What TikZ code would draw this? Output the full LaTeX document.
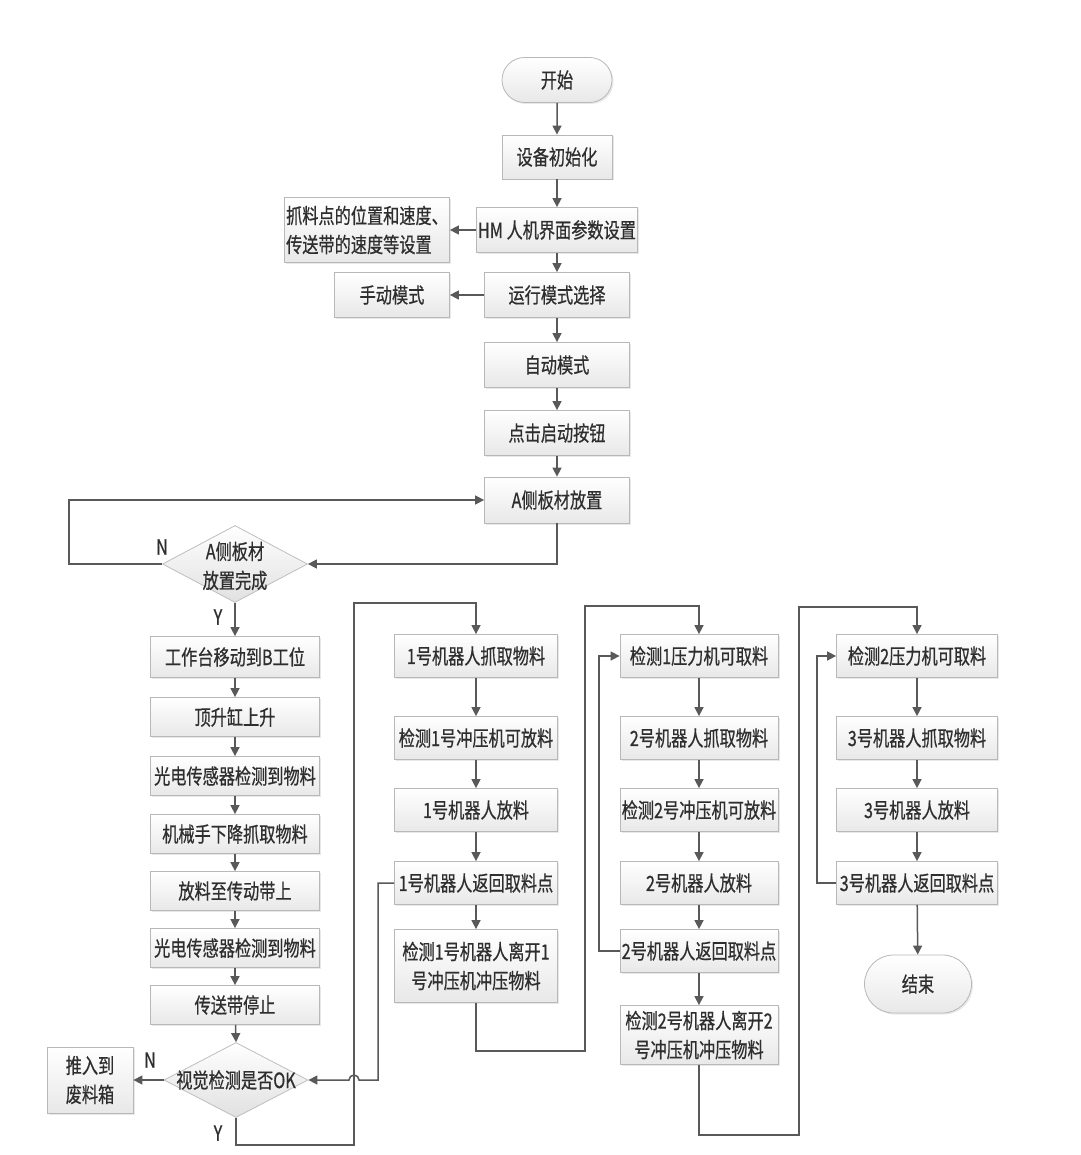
\documentclass[tikz,border=0pt]{standalone}
\usepackage{fontspec}
\newfontfamily\cjk[FakeStretch=0.77,FakeBold=0.6]{Noto Sans CJK SC}
\usetikzlibrary{shapes.geometric,shapes.misc,arrows.meta,shadows}
\begin{document}
\begin{tikzpicture}[x=1pt,y=-1pt,
  font=\cjk\fontsize{21}{29}\selectfont,
  box/.style={rectangle, draw=black!28, line width=0.8pt, top color=white, bottom color=black!9,
    text=black!82, inner sep=0pt, align=center,
    drop shadow={opacity=0.18,shadow xshift=1.5pt,shadow yshift=-1.5pt}},
  term/.style={rounded rectangle, draw=black!28, line width=0.8pt, top color=white, bottom color=black!9,
    text=black!82, inner sep=0pt, align=center,
    drop shadow={opacity=0.18,shadow xshift=1.5pt,shadow yshift=-1.5pt}},
  dia/.style={diamond, draw=black!25, line width=0.8pt, top color=white, bottom color=black!12, inner sep=0pt},
  lbl/.style={text=black!82, inner sep=0pt, align=center},
  arr/.style={draw=black!65, line width=1.5pt, -{Triangle[length=9pt,width=9pt]}},
  ln/.style={draw=black!65, line width=1.5pt},
]
\useasboundingbox (0,0) rectangle (1080,1155);
\fill[white] (0,0) rectangle (1080,1155);

% top column
\node[term, minimum width=110pt, minimum height=45pt] (start) at (557,80) {开始};
\node[box, minimum width=110pt, minimum height=44pt] (init) at (557,157) {设备初始化};
\node[box, minimum width=161pt, minimum height=45pt] (hmi) at (557,230) {HM 人机界面参数设置};
\node[box, minimum width=165pt, minimum height=65pt, align=left] (param) at (367,230) {抓料点的位置和速度、\\传送带的速度等设置};
\node[box, minimum width=145pt, minimum height=45pt] (mode) at (557,295) {运行模式选择};
\node[box, minimum width=115pt, minimum height=45pt] (manual) at (392,295) {手动模式};
\node[box, minimum width=145pt, minimum height=45pt] (auto) at (557,365) {自动模式};
\node[box, minimum width=145pt, minimum height=45pt] (btn) at (557,433) {点击启动按钮};
\node[box, minimum width=145pt, minimum height=46pt] (aplace) at (557,500) {A侧板材放置};

% decision 1
\node[dia, minimum width=145pt, minimum height=77pt] (d1) at (235,564) {};
\node[lbl] (d1t) at (235,566) {A侧板材\\放置完成};
\node[lbl] (d1n) at (162,547) {N};
\node[lbl] (d1y) at (218,617) {Y};

% left column
\node[box, minimum width=169pt, minimum height=41pt] (l1) at (235,657) {工作台移动到B工位};
\node[box, minimum width=169pt, minimum height=39pt] (l2) at (235,717) {顶升缸上升};
\node[box, minimum width=169pt, minimum height=39pt] (l3) at (235,776) {光电传感器检测到物料};
\node[box, minimum width=169pt, minimum height=39pt] (l4) at (235,834) {机械手下降抓取物料};
\node[box, minimum width=169pt, minimum height=39pt] (l5) at (235,891) {放料至传动带上};
\node[box, minimum width=169pt, minimum height=39pt] (l6) at (235,948) {光电传感器检测到物料};
\node[box, minimum width=169pt, minimum height=39pt] (l7) at (235,1005) {传送带停止};

% decision 2
\node[dia, minimum width=144pt, minimum height=75pt] (d2) at (236,1080) {};
\node[lbl] (d2t) at (236,1080) {视觉检测是否OK};
\node[box, minimum width=86pt, minimum height=66pt] (reject) at (90,1080) {推入到\\废料箱};
\node[lbl] (d2n) at (150,1060) {N};
\node[lbl] (d2y) at (218,1133) {Y};

% column 1
\node[box, minimum width=163pt, minimum height=43pt] (a1) at (476,656) {1号机器人抓取物料};
\node[box, minimum width=163pt, minimum height=43pt] (a2) at (476,738) {检测1号冲压机可放料};
\node[box, minimum width=163pt, minimum height=43pt] (a3) at (476,810) {1号机器人放料};
\node[box, minimum width=163pt, minimum height=43pt] (a4) at (476,883) {1号机器人返回取料点};
\node[box, minimum width=163pt, minimum height=73pt] (a5) at (476,966) {检测1号机器人离开1\\号冲压机冲压物料};

% column 2
\node[box, minimum width=158pt, minimum height=43pt] (b1) at (699,656) {检测1压力机可取料};
\node[box, minimum width=158pt, minimum height=43pt] (b2) at (699,738) {2号机器人抓取物料};
\node[box, minimum width=158pt, minimum height=43pt] (b3) at (699,810) {检测2号冲压机可放料};
\node[box, minimum width=158pt, minimum height=43pt] (b4) at (699,883) {2号机器人放料};
\node[box, minimum width=158pt, minimum height=43pt] (b5) at (699,951) {2号机器人返回取料点};
\node[box, minimum width=158pt, minimum height=59pt] (b6) at (699,1035) {检测2号机器人离开2\\号冲压机冲压物料};

% column 3
\node[box, minimum width=161pt, minimum height=43pt] (c1) at (917,656) {检测2压力机可取料};
\node[box, minimum width=161pt, minimum height=43pt] (c2) at (917,738) {3号机器人抓取物料};
\node[box, minimum width=161pt, minimum height=43pt] (c3) at (917,810) {3号机器人放料};
\node[box, minimum width=161pt, minimum height=43pt] (c4) at (917,883) {3号机器人返回取料点};
\node[term, minimum width=107pt, minimum height=58pt] (end) at (918,984) {结束};

% helper coordinates
\coordinate (nl) at (69,564);
\coordinate (yb) at (236,1145);
\coordinate (yr) at (354,1145);
\coordinate (yt) at (354,603);
\coordinate (r1) at (378,883);
\coordinate (r1b) at (378,1080);
\coordinate (hopr) at (359,1080);
\coordinate (p1) at (476,1051);
\coordinate (p2) at (585,1051);
\coordinate (p3) at (585,606);
\coordinate (r2) at (599,951);
\coordinate (q1) at (699,1135);
\coordinate (q2) at (799,1135);
\coordinate (q3) at (799,607);
\coordinate (r3) at (817,883);

% connectors
\draw[arr] (start) -- (init);
\draw[arr] (init) -- (hmi);
\draw[arr] (hmi) -- (mode);
\draw[arr] (mode) -- (auto);
\draw[arr] (auto) -- (btn);
\draw[arr] (btn) -- (aplace);
\draw[arr] (hmi.west) -- (param.east);
\draw[arr] (mode.west) -- (manual.east);
\draw[arr] (aplace.south) |- (d1.east);
\draw[arr] (d1.west) -- (nl) |- (aplace.west);
\draw[arr] (d1.south) -- (l1.north);
\draw[arr] (l1) -- (l2);
\draw[arr] (l2) -- (l3);
\draw[arr] (l3) -- (l4);
\draw[arr] (l4) -- (l5);
\draw[arr] (l5) -- (l6);
\draw[arr] (l6) -- (l7);
\draw[arr] (l7) -- (d2.north);
\draw[arr] (d2.west) -- (reject.east);
\draw[arr] (d2.south) -- (yb) -- (yr) -- (yt) -| (a1.north);
\draw[arr] (a1) -- (a2);
\draw[arr] (a2) -- (a3);
\draw[arr] (a3) -- (a4);
\draw[arr] (a4) -- (a5);
\draw[arr] (a4.west) -- (r1) -- (r1b) -- (hopr) arc (0:-180:5) -- (d2.east);
\draw[arr] (a5.south) -- (p1) -- (p2) -- (p3) -| (b1.north);
\draw[arr] (b1) -- (b2);
\draw[arr] (b2) -- (b3);
\draw[arr] (b3) -- (b4);
\draw[arr] (b4) -- (b5);
\draw[arr] (b5) -- (b6);
\draw[arr] (b5.west) -- (r2) |- (b1.west);
\draw[arr] (b6.south) -- (q1) -- (q2) -- (q3) -| (c1.north);
\draw[arr] (c1) -- (c2);
\draw[arr] (c2) -- (c3);
\draw[arr] (c3) -- (c4);
\draw[arr] (c4.west) -- (r3) |- (c1.west);
\draw[arr] (c4) -- (end);
\end{tikzpicture}
\end{document}
